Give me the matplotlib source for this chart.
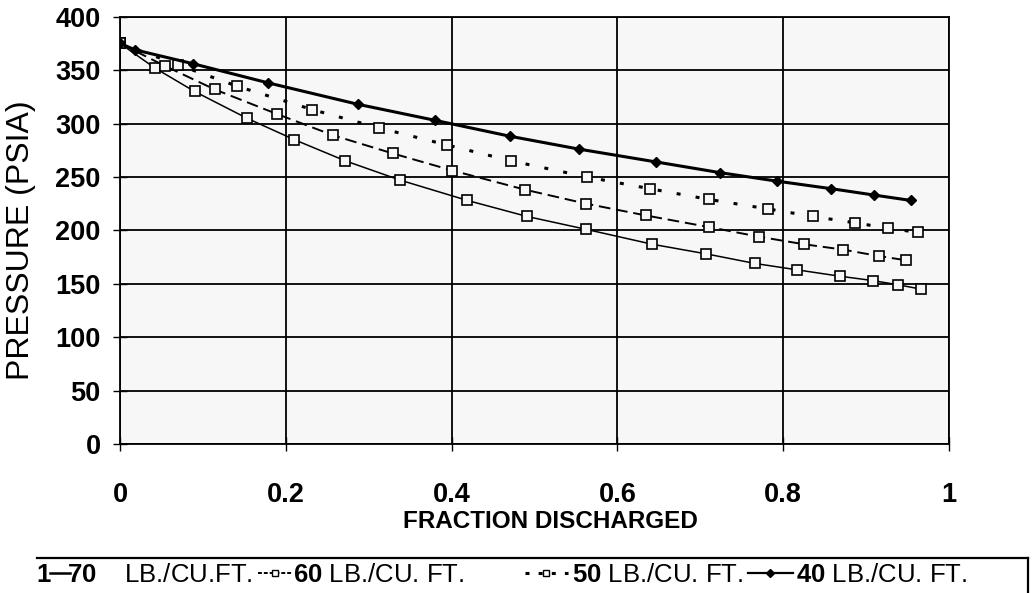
import matplotlib
matplotlib.use("Agg")
import matplotlib.pyplot as plt
from matplotlib.lines import Line2D

plt.rcParams['font.family'] = ['Liberation Sans', 'DejaVu Sans']
plt.rcParams['mathtext.fontset'] = 'custom'
plt.rcParams['mathtext.rm'] = 'Liberation Sans'
plt.rcParams['mathtext.bf'] = 'Liberation Sans:bold'

# ---- data ----
x70 = [0, 0.042, 0.090, 0.153, 0.210, 0.272, 0.338, 0.419, 0.491, 0.562,
       0.642, 0.707, 0.766, 0.817, 0.869, 0.908, 0.939, 0.966]
p70 = [375, 352, 330, 305, 285, 265, 247, 228, 213, 201,
       187, 178, 169, 163, 157, 153, 149, 145]

x60 = [0, 0.054, 0.114, 0.189, 0.257, 0.329, 0.401, 0.489, 0.562, 0.634,
       0.711, 0.771, 0.825, 0.872, 0.915, 0.948]
p60 = [375, 354, 332, 309, 289, 272, 256, 238, 225, 214,
       203, 194, 187, 182, 176, 172]

x50 = [0, 0.070, 0.141, 0.232, 0.312, 0.394, 0.472, 0.563, 0.639, 0.710,
       0.782, 0.836, 0.887, 0.927, 0.963]
p50 = [375, 355, 335, 313, 296, 280, 265, 250, 239, 229,
       220, 213, 207, 202, 198]

x40 = [0, 0.018, 0.088, 0.179, 0.287, 0.380, 0.471, 0.554, 0.647, 0.724,
       0.793, 0.858, 0.910, 0.954]
p40 = [375, 369, 356, 338, 318, 303, 288, 276, 264, 254,
       246, 239, 233, 228]

labels = [r"$\mathbf{70}$    LB./CU.FT.", r"$\mathbf{60}$ LB./CU. FT.",
          r"$\mathbf{50}$ LB./CU. FT.", r"$\mathbf{40}$ LB./CU. FT."]
xticks = [0, 0.2, 0.4, 0.6, 0.8, 1.0]
xticklabels = ["0", "0.2", "0.4", "0.6", "0.8", "1"]
yticks = [0, 50, 100, 150, 200, 250, 300, 350, 400]

W, H = 1032, 593
bg = '#f7f7f7'
fig = plt.figure(figsize=(W/100, H/100), dpi=100)
ax = fig.add_axes([120/W, 1-444/H, (949-120)/W, (444-16.7)/H])
ax.set_facecolor(bg)

l70, = ax.plot(x70, p70, color='black', lw=1.1, marker='s', ms=6.5,
               mfc=bg, mec='black', mew=1.2, zorder=3)
l60, = ax.plot(x60, p60, color='black', lw=1.4, ls=(0, (6, 3)), marker='s',
               ms=6.5, mfc=bg, mec='black', mew=1.2, zorder=3)
l50, = ax.plot(x50, p50, color='black', lw=2.2, ls=(0, (1.3, 5)), marker='s',
               ms=6.5, mfc=bg, mec='black', mew=1.2, zorder=3)
l40, = ax.plot(x40, p40, color='black', lw=2.2, marker='D', ms=5,
               mfc='black', mec='black', zorder=4)

ax.set_xlim(0, 1)
ax.set_ylim(0, 400)
ax.set_xticks(xticks)
ax.set_xticklabels(xticklabels)
ax.set_yticks(yticks)
ax.grid(True, color='black', lw=1.3)
ax.set_axisbelow(True)
for s in ax.spines.values():
    s.set_color('black')
    s.set_linewidth(1.3)
ax.tick_params(axis='both', direction='inout', length=10, width=1.0,
               labelsize=19.5)
ax.tick_params(axis='y', pad=9)
ax.tick_params(axis='x', pad=22)
for t in ax.get_xticklabels() + ax.get_yticklabels():
    t.set_fontweight('bold')

ax.set_xlabel("FRACTION DISCHARGED", fontsize=17.5, fontweight='bold',
              labelpad=6)
ax.xaxis.set_label_coords((550-120)/(949-120), -(522-444)/(444-16.7))
ax.xaxis.label.set_va('center')
ax.set_ylabel("PRESSURE (PSIA)", fontsize=23)
ax.yaxis.set_label_coords(-(120-21)/(949-120), (444-240)/(444-16.7))
ax.yaxis.label.set_va('center')

# legend entries
h70 = Line2D([], [], color='black', lw=1.8)
h60 = Line2D([], [], color='black', lw=1.4, ls=(0, (2, 1)), marker='s',
             ms=5, mfc='white', mec='black')
h50 = Line2D([], [], color='black', lw=2.2, ls=(0, (1.3, 3)), marker='s',
             ms=5, mfc='white', mec='black')
h40 = Line2D([], [], color='black', lw=1.6, marker='D', ms=4,
             mfc='black', mec='black')
ly = 1 - 575/H
fs = 18.5
entries = [(h70, labels[0], 50, 0.78, -0.1), (h60, labels[1], 258, 1.32, 0.05),
           (h50, labels[2], 525, 1.67, 0.15), (h40, labels[3], 748, 1.75, 0.1)]
for h, lab, xs, hl, pad in entries:
    fig.legend([h], [lab], loc='center left', bbox_to_anchor=(xs/W, ly),
               frameon=False, fontsize=fs, handlelength=hl,
               handletextpad=pad, borderpad=0, borderaxespad=0)

fig.text(44/W, ly, "1", fontsize=fs, fontweight='bold',
         ha='center', va='center')
fig.add_artist(Line2D([37/W, 1028/W], [1-558/H, 1-558/H],
                      transform=fig.transFigure, color='black', lw=1.6))
fig.add_artist(Line2D([1028/W, 1028/W], [1-558/H, 0],
                      transform=fig.transFigure, color='black', lw=1.6))

fig.savefig("out.png", dpi=100, facecolor='white')
